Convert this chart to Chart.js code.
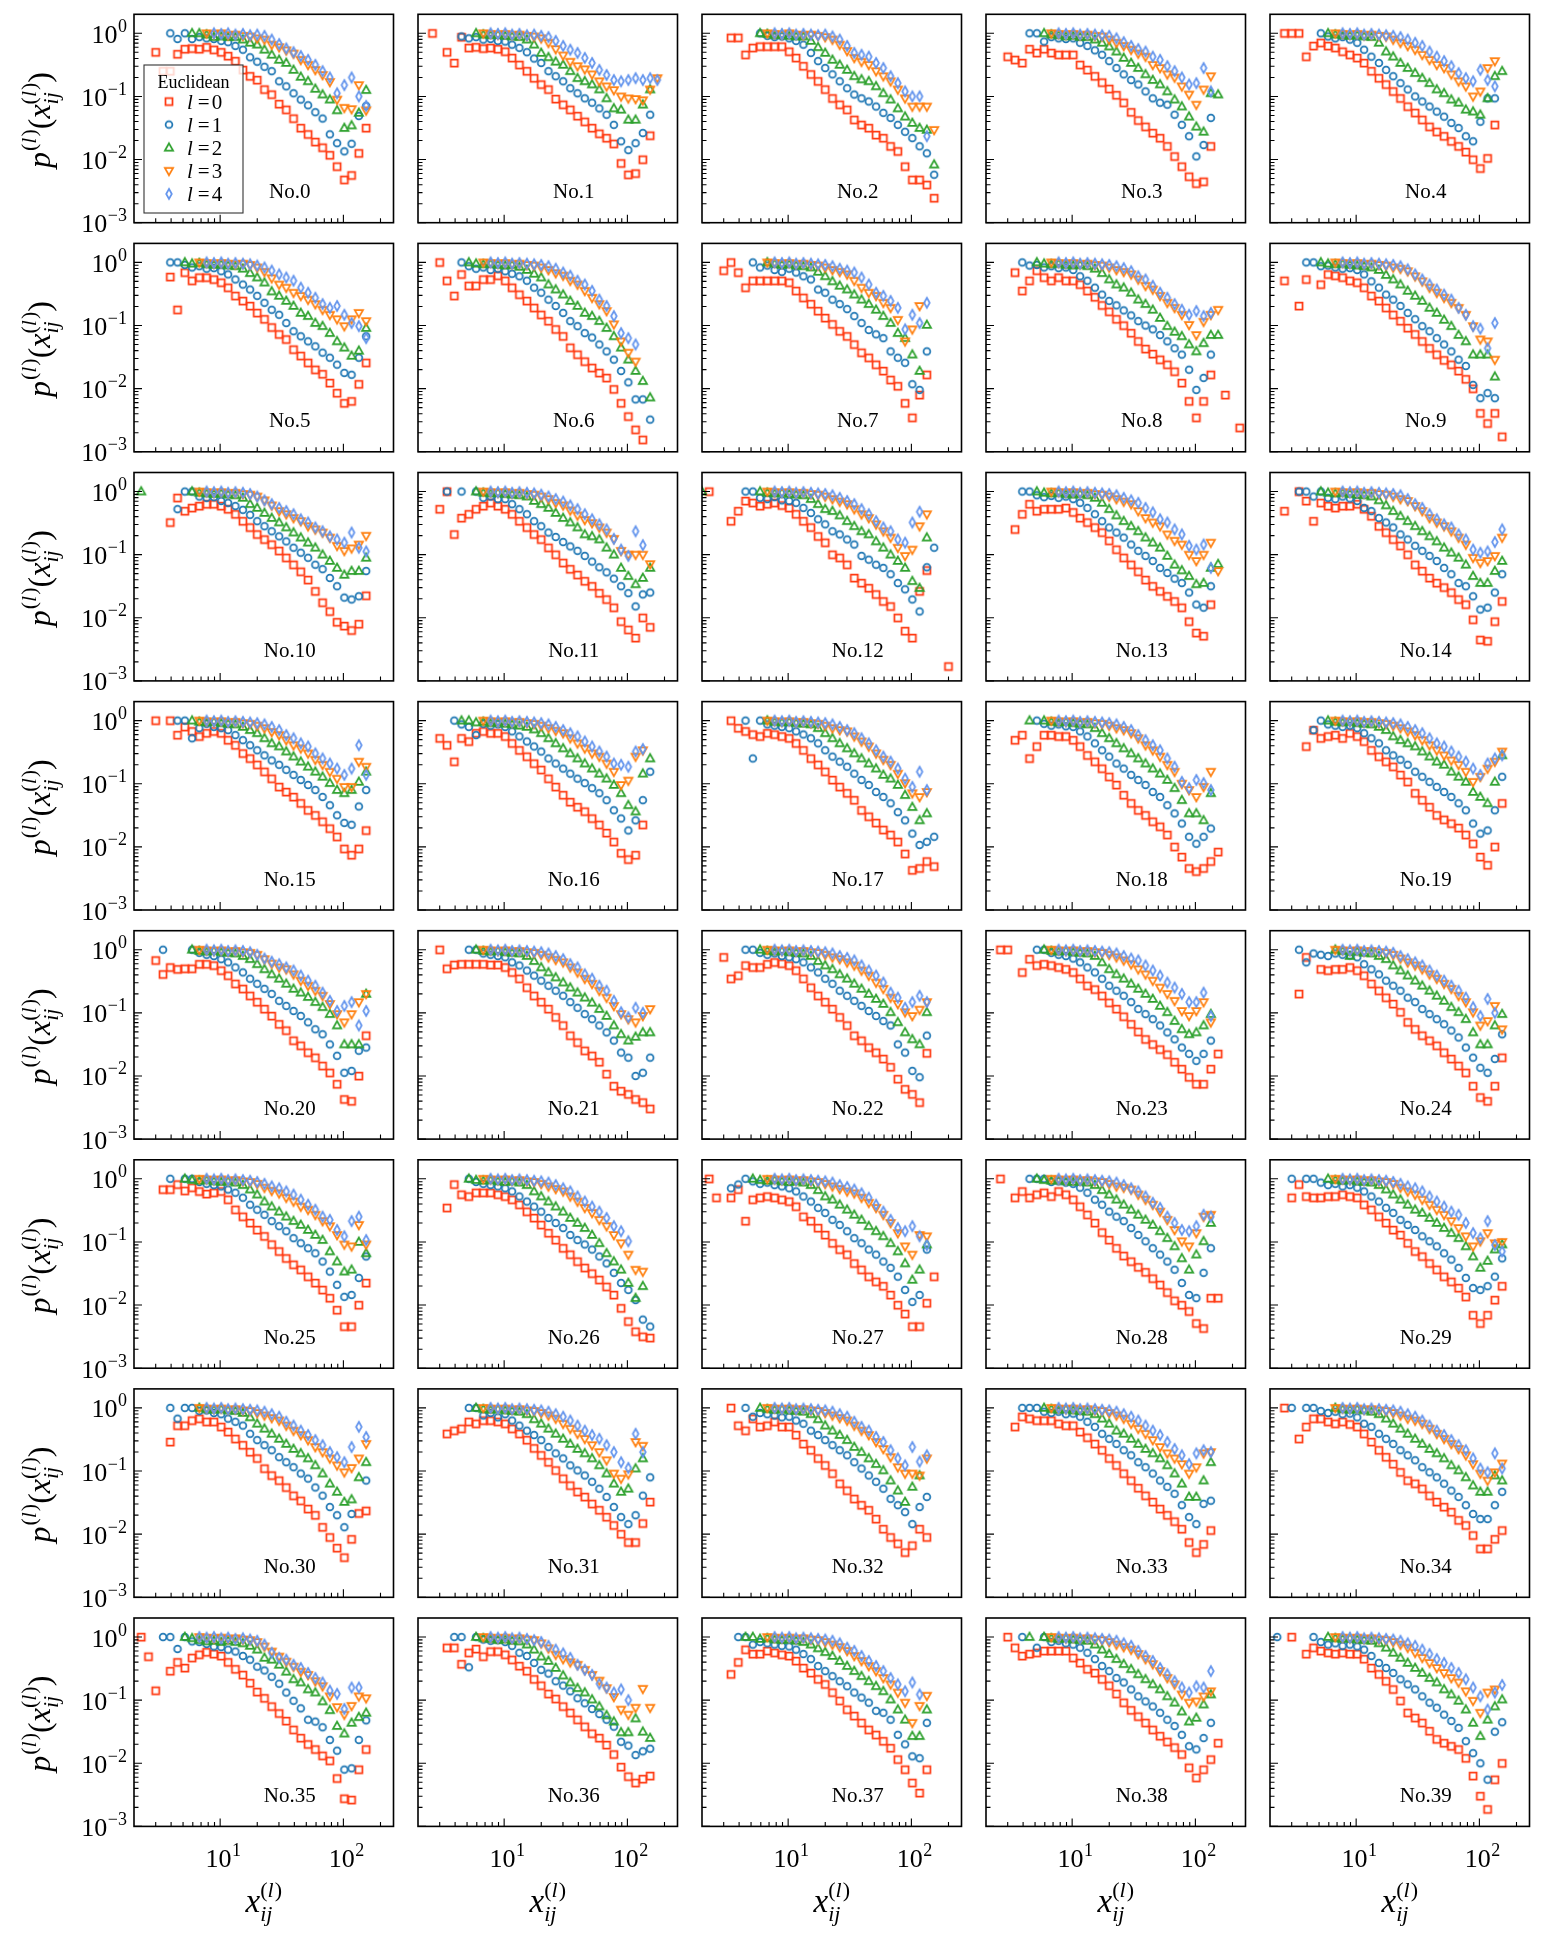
<!DOCTYPE html>
<html>
<head>
<meta charset="utf-8">
<script src="https://cdn.jsdelivr.net/npm/chart.js@4.4.0/dist/chart.umd.min.js"></script>
<style>
html, body { margin: 0; padding: 0; background: #fff; }
#wrap { position: relative; width: 1545px; height: 1946px; overflow: hidden; background: #fff; }
#wrap canvas { position: absolute; }
</style>
</head>
<body>
<div id="wrap"></div>
<script>
const _ = null;

// distance bins (x) shared by all panels
const xBins = [2.0, 2.29, 2.62, 3.0, 3.44, 3.94, 4.51, 5.17, 5.92, 6.78, 7.76, 8.9, 10.2, 11.6, 13.3, 15.3, 17.5, 20.0,
  22.9, 26.2, 30.1, 34.4, 39.4, 45.1, 51.7, 59.2, 67.8, 77.6, 88.9, 101.8, 116.6, 133.5, 153, 175, 200, 229];

// log10 p x 100, one row per panel; first entry of a row = index in xBins of its first point
const logP0 = [
  [3,-30,-60,-60,-33,-25,-24,-25,-22,-26,-30,-36,-44,-58,-68,-74,-89,-97,-112,-121,-135,-150,-160,-172,-181,-193,-211,-232,-225,-190,-150],
  [2,0,_,-30,-47,-6,-23,-22,-24,-23,-25,-29,-39,-50,-60,-71,-81,-89,-104,-113,-121,-131,-140,-150,-159,-166,-175,-206,-224,-222,-200,-162],
  [4,-7,-7,-34,-23,-21,-21,-21,-21,-29,-39,-52,-65,-76,-89,-103,-113,-121,-137,-145,-150,-161,-166,-179,-187,-211,-232,-232,-240,-261],
  [3,-37,-42,-47,-25,-31,-25,-31,-34,-34,-34,-50,-58,-68,-78,-88,-98,-110,-125,-138,-148,-158,-166,-179,-195,-211,-227,-238,-235,-179],
  [2,0,0,0,-37,-20,-15,-20,-23,-29,-34,-39,-47,-60,-71,-81,-92,-103,-116,-126,-137,-148,-156,-163,-171,-179,-188,-200,-214,-198,-145],
  [5,-23,-75,-16,-29,-24,-24,-27,-32,-40,-53,-61,-69,-80,-90,-103,-114,-122,-138,-148,-159,-170,-177,-191,-207,-223,-220,-193,-159],
  [3,0,-29,-53,-19,-37,-37,-27,-27,-21,-29,-40,-51,-61,-72,-83,-93,-106,-117,-135,-146,-157,-167,-175,-183,-201,-223,-244,-265,-281],
  [3,-13,0,-16,-40,-29,-29,-29,-29,-29,-32,-45,-56,-66,-77,-88,-98,-109,-117,-130,-143,-151,-162,-172,-186,-196,-223,-246,-210,-178],
  [4,-16,-45,-29,-13,-24,-29,-24,-29,-29,-35,-45,-55,-68,-78,-90,-100,-112,-125,-137,-145,-154,-162,-173,-191,-220,-246,-220,-178,_,-210,_,-262],
  [2,-29,_,-69,-27,_,-35,-19,-21,-24,-29,-32,-40,-53,-61,-72,-83,-93,-104,-114,-125,-136,-146,-155,-162,-172,-185,-200,-239,-255,-239,-276],
  [5,-49,-10,-31,-26,-23,-20,-20,-23,-28,-36,-47,-57,-68,-76,-84,-94,-105,-116,-127,-140,-158,-176,-190,-207,-213,-220,-210,-165],
  [3,-28,0,-68,-42,-36,-28,-23,-18,-23,-28,-36,-47,-57,-68,-76,-89,-100,-113,-123,-132,-142,-150,-161,-171,-184,-206,-219,-232,-200,-215],
  [1,0,_,_,-47,-31,-15,-18,-23,-20,-18,-22,-26,-36,-47,-57,-71,-81,-100,-105,-116,-137,-145,-153,-163,-174,-182,-200,-221,-232,-158,-125,_,_,-277],
  [4,-60,-36,-20,-31,-28,-28,-28,-26,-33,-42,-49,-57,-65,-78,-92,-105,-116,-127,-140,-150,-158,-166,-174,-184,-206,-224,-229,-179],
  [2,-31,_,0,-15,-47,-18,-23,-26,-23,-23,-20,-28,-39,-55,-65,-76,-86,-100,-116,-126,-137,-145,-152,-160,-171,-179,-203,-235,-237,-206,-174],
  [3,0,_,0,-23,-10,-17,-25,-20,-17,-20,-31,-39,-52,-60,-70,-81,-92,-105,-113,-121,-131,-142,-150,-160,-171,-184,-203,-213,-203,-174],
  [3,-28,-39,-65,-28,-33,-20,-17,-20,-20,-25,-36,-47,-57,-68,-78,-92,-105,-118,-129,-137,-144,-155,-165,-178,-192,-210,-220,-213,-165],
  [4,0,-12,-17,-22,-25,-20,-22,-25,-28,-36,-47,-60,-70,-81,-94,-105,-115,-126,-142,-152,-162,-173,-181,-192,-211,-237,-234,-223,-231],
  [4,-31,-23,-60,-41,-23,-23,-25,-25,-31,-41,-55,-65,-76,-89,-102,-118,-131,-142,-150,-160,-168,-181,-200,-216,-234,-239,-234,-223,-208],
  [5,-41,-15,-28,-25,-23,-28,-20,-25,-33,-47,-57,-65,-73,-86,-97,-115,-126,-137,-150,-157,-163,-170,-181,-195,-216,-229,-200,-131],
  [3,-17,-39,-28,-31,-30,-30,-23,-23,-25,-33,-41,-54,-62,-73,-83,-94,-105,-118,-128,-144,-152,-163,-171,-184,-195,-213,-237,-240,-200,-136],
  [3,0,-30,-24,-23,-23,-23,-23,-24,-24,-28,-36,-46,-60,-73,-83,-94,-107,-120,-136,-147,-160,-168,-178,-197,-216,-224,-229,-237,-242,-252],
  [3,-12,-46,-41,-25,-28,-28,-23,-20,-22,-25,-33,-46,-60,-73,-83,-94,-107,-120,-136,-144,-155,-163,-173,-186,-205,-221,-229,-242,-164],
  [2,0,0,_,-36,-15,-25,-23,-25,-28,-31,-36,-46,-57,-63,-73,-84,-94,-106,-118,-130,-142,-150,-158,-166,-178,-189,-202,-213,-213,-189,-165],
  [4,-70,-12,_,-31,-33,-31,-31,-28,-33,-41,-54,-65,-76,-86,-99,-115,-126,-136,-144,-152,-163,-173,-184,-195,-216,-234,-240,-216,-171],
  [4,-17,-17,-9,-19,-14,-20,-24,-22,-20,-33,-49,-60,-70,-81,-91,-104,-115,-126,-136,-144,-155,-165,-176,-189,-208,-234,-234,-200,-165],
  [4,-46,-9,-25,-28,-22,-22,-22,-25,-28,-33,-41,-52,-62,-73,-86,-97,-110,-120,-131,-141,-150,-160,-171,-184,-205,-226,-242,-250,-252],
  [1,0,-30,_,-30,-17,-67,-33,-30,-28,-30,-33,-36,-44,-60,-67,-78,-89,-102,-112,-120,-134,-144,-155,-163,-170,-184,-200,-214,-234,-234,-197,-155],
  [2,0,_,-30,-20,-30,-25,-22,-28,-20,-25,-33,-44,-57,-70,-85,-97,-110,-122,-131,-140,-148,-158,-168,-180,-193,-200,-210,-229,-237,-189,-189],
  [3,-30,-9,-28,-30,-30,-28,-28,-25,-28,-30,-41,-49,-60,-70,-81,-89,-102,-115,-123,-134,-144,-155,-163,-173,-187,-216,-229,-216,-192,-170],
  [5,-54,-28,-28,-20,-17,-22,-22,-30,-38,-49,-59,-70,-80,-96,-107,-115,-126,-139,-147,-160,-170,-189,-205,-222,-237,-208,-167,-163],
  [4,-41,-36,-33,-22,-25,-20,-20,-22,-25,-33,-41,-51,-64,-75,-86,-99,-112,-123,-133,-141,-152,-162,-173,-186,-200,-213,-213,-183,-149],
  [4,0,-28,-36,-17,-30,-28,-22,-30,-30,-43,-57,-67,-80,-91,-104,-120,-131,-144,-154,-162,-176,-192,-205,-215,-229,-218,-192,-205],
  [4,-30,-14,-17,-20,-20,-20,-25,-28,-28,-38,-47,-57,-67,-80,-91,-104,-115,-127,-139,-149,-160,-170,-180,-192,-213,-229,-216,-194],
  [2,0,_,-49,-30,-17,-17,-22,-25,-22,-26,-30,-41,-54,-67,-78,-89,-102,-115,-120,-128,-139,-149,-157,-165,-178,-186,-202,-223,-223,-208,-194],
  [1,0,-31,-85,_,-54,-40,-49,-33,-28,-24,-27,-30,-40,-51,-60,-73,-87,-97,-110,-121,-133,-147,-160,-170,-178,-188,-196,-224,-256,-258,-210,-178],
  [4,-17,-17,-43,-25,-19,-31,-23,-23,-28,-36,-46,-54,-67,-77,-90,-98,-110,-120,-131,-142,-153,-160,-171,-186,-206,-221,-231,-225,-220],
  [4,-59,-40,-20,-27,-27,-22,-25,-28,-30,-38,-49,-57,-67,-75,-88,-101,-115,-125,-136,-147,-155,-165,-176,-194,-210,-231,-247,-210],
  [3,0,-17,-30,-27,-25,-22,-22,-22,-22,-33,-41,-51,-57,-67,-77,-90,-104,-116,-126,-136,-147,-157,-166,-175,-186,-207,-223,-210,-194,-168],
  [3,0,_,-27,-17,-22,-25,-27,-25,-27,-27,-35,-49,-59,-70,-83,-101,-120,-128,-136,-149,-162,-168,-173,-178,-192,-220,-252,-273,-226,-200]
];

const logP1 = [
  [5,0,-9,0,-9,-6,-8,-9,-12,-14,-20,-26,-38,-45,-53,-60,-76,-84,-95,-105,-114,-125,-135,-160,-174,-187,-175,-131,-115],
  [6,-5,-8,-6,-10,-9,-12,-13,-18,-23,-30,-40,-47,-60,-68,-76,-87,-95,-103,-110,-119,-129,-145,-171,-185,-174,-158,-129],
  [8,0,-4,-6,-5,-8,-12,-18,-31,-44,-55,-65,-76,-87,-97,-103,-108,-116,-126,-134,-145,-156,-166,-179,-190,-224],
  [6,0,0,-13,-6,-8,-9,-8,-15,-20,-27,-34,-44,-55,-65,-74,-81,-92,-103,-110,-113,-129,-145,-163,-195,-177,-134],
  [7,0,-5,-8,-6,-10,-15,-26,-37,-47,-58,-68,-79,-89,-100,-108,-116,-124,-132,-142,-150,-163,-171,-140,-103,-103],
  [5,0,0,-4,-8,-6,-10,-9,-14,-19,-27,-35,-43,-53,-64,-75,-83,-96,-109,-117,-125,-133,-143,-151,-162,-175,-178,-151,-117],
  [6,0,-6,-10,-8,-12,-10,-14,-18,-22,-29,-40,-48,-59,-69,-80,-93,-101,-112,-119,-130,-141,-154,-172,-190,-217,-217,-249],
  [7,0,-8,-5,-12,-15,-10,-16,-22,-27,-43,-48,-59,-66,-74,-85,-96,-107,-114,-120,-141,-151,-159,-193,-202,-141],
  [5,0,-5,-4,-8,-6,-9,-8,-12,-22,-29,-40,-51,-61,-68,-76,-84,-93,-100,-106,-115,-125,-136,-146,-170,-202,-183,-146],
  [5,0,0,-6,-5,-8,-10,-9,-12,-19,-30,-40,-51,-59,-69,-80,-90,-101,-109,-120,-130,-141,-154,-164,-194,-215,-207,-215],
  [6,-28,0,0,-8,-10,-9,-15,-18,-23,-29,-37,-47,-55,-63,-71,-79,-89,-97,-105,-116,-123,-137,-150,-168,-171,-166,-126],
  [4,0,_,0,_,0,-10,-8,-12,-12,-20,-28,-36,-47,-55,-65,-72,-80,-87,-94,-102,-111,-120,-128,-138,-150,-161,-182,-163,-160],
  [6,0,0,-10,-12,-9,-14,-15,-18,-26,-34,-44,-52,-63,-68,-76,-84,-102,-108,-116,-121,-131,-145,-155,-171,-190,-120,-89],
  [5,0,0,-6,-9,-7,-10,-8,-12,-18,-26,-36,-47,-57,-65,-73,-84,-94,-102,-110,-121,-129,-138,-145,-160,-179,-184,-150],
  [4,0,0,-8,0,-10,-12,-8,-11,-15,-26,-31,-42,-49,-57,-68,-76,-86,-94,-102,-110,-121,-131,-145,-150,-166,-187,-184,-160,-131],
  [6,0,0,-28,-12,-5,-10,-12,-15,-23,-31,-39,-47,-55,-63,-70,-78,-86,-94,-102,-110,-121,-134,-150,-162,-165,-136,-110],
  [5,0,-6,-10,-23,-5,-8,-6,-10,-17,-25,-33,-41,-49,-60,-68,-76,-84,-92,-99,-107,-115,-126,-142,-155,-174,-158,-126,-81],
  [6,0,-60,0,-6,-8,-10,-12,-17,-22,-28,-36,-47,-57,-65,-73,-84,-94,-102,-113,-121,-131,-145,-158,-179,-197,-192,-184],
  [7,0,-5,-8,-6,-9,-10,-17,-25,-36,-47,-57,-68,-76,-86,-94,-102,-113,-121,-134,-147,-163,-184,-195,-184,-171],
  [6,-15,0,-6,-8,-10,-8,-12,-20,-28,-36,-47,-55,-62,-70,-81,-89,-97,-105,-113,-121,-131,-142,-163,-179,-174,-142,-89],
  [4,0,_,_,_,0,-5,-8,-10,-15,-20,-28,-36,-46,-54,-62,-70,-81,-89,-97,-105,-115,-126,-134,-150,-168,-195,-192,-160,-155],
  [7,0,0,-6,-8,-10,-12,-20,-25,-33,-41,-49,-57,-65,-73,-83,-92,-102,-110,-120,-131,-144,-163,-171,-200,-195,-171],
  [6,0,0,-5,-8,-6,-10,-12,-15,-20,-28,-36,-46,-54,-65,-73,-81,-89,-97,-105,-113,-120,-150,-163,-192,-202,-136],
  [7,0,0,-5,-8,-10,-14,-20,-28,-36,-46,-57,-65,-73,-83,-94,-102,-110,-120,-131,-142,-155,-165,-176,-165,-144],
  [4,0,-20,-6,-8,-10,-6,-8,-9,-12,-23,-31,-39,-49,-57,-65,-76,-83,-94,-102,-110,-118,-128,-139,-155,-171,-187,-195,-173,-134],
  [5,0,_,0,0,-5,-8,-10,-12,-17,-22,-30,-41,-49,-57,-67,-75,-83,-94,-102,-110,-118,-131,-147,-168,-187,-184,-157,-123],
  [7,0,-5,-8,-10,-12,-15,-20,-28,-36,-44,-52,-62,-70,-78,-89,-97,-104,-112,-123,-134,-149,-165,-176,-192,-223,-234],
  [4,-15,-9,0,-4,-8,-6,-10,-12,-15,-20,-28,-36,-46,-54,-65,-73,-83,-94,-102,-112,-120,-131,-141,-155,-176,-195,-184,-112],
  [6,0,0,0,-5,-4,-6,-8,-14,-22,-33,-41,-52,-60,-67,-78,-89,-99,-110,-120,-131,-144,-165,-184,-189,-149,-110],
  [3,0,_,0,0,-6,-10,-8,-12,-10,-14,-20,-28,-36,-46,-54,-65,-73,-81,-91,-99,-107,-118,-128,-141,-157,-173,-176,-170,-155,-126],
  [5,0,-17,0,0,-5,-4,-8,-10,-17,-22,-28,-41,-51,-59,-67,-78,-86,-94,-104,-112,-126,-139,-157,-170,-189,-168,_,-115],
  [7,0,0,-12,-8,-15,-10,-20,-28,-36,-43,-51,-62,-72,-80,-91,-99,-107,-117,-128,-141,-157,-173,-184,-170,-139,-110],
  [6,0,-14,-8,-10,-12,-15,-14,-20,-25,-36,-43,-51,-59,-67,-75,-86,-96,-107,-117,-128,-144,-154,-165,-184,-157,-141],
  [5,0,0,0,-6,-8,-6,-10,-9,-14,-22,-30,-41,-49,-57,-67,-75,-86,-94,-104,-115,-125,-136,-154,-173,-184,-152,-147],
  [3,0,_,0,0,-5,-8,-6,-10,-9,-15,-25,-30,-41,-49,-57,-67,-75,-83,-94,-102,-110,-120,-131,-141,-154,-168,-176,-176,-154,-133],
  [4,0,0,-19,0,-7,-8,-11,-15,-16,-20,-23,-30,-36,-47,-53,-63,-74,-88,-101,-113,-131,-134,-143,-163,-180,-210,-208,-163,-132],
  [5,0,0,-48,0,-4,-6,-5,-8,-14,-25,-30,-41,-52,-58,-70,-77,-86,-97,-105,-114,-122,-131,-142,-166,-172,-187,-181,-177],
  [5,0,0,-12,-8,-10,-12,-14,-15,-20,-27,-35,-46,-54,-62,-70,-78,-88,-96,-104,-117,-120,-131,-155,-170,-189,-192,-136],
  [5,0,_,-17,0,-8,-6,-10,-12,-17,-25,-35,-46,-54,-65,-72,-83,-94,-102,-110,-120,-131,-141,-155,-173,-178,-160,-136],
  [1,0,_,_,_,_,0,-8,-12,-10,-14,-12,-15,-20,-30,-41,-49,-57,-67,-75,-83,-94,-104,-112,-123,-133,-144,-165,-184,-200,-226,-150,-135]
];

const logP2 = [
  [8,0,0,-2,-6,-5,-6,-6,-10,-15,-18,-26,-34,-42,-47,-58,-69,-76,-88,-97,-105,-122,-150,-146,-126,-90],
  [8,0,-2,-3,-2,-4,-5,-6,-10,-18,-31,-38,-45,-50,-60,-71,-76,-81,-89,-103,-119,-121,-137,-137,-113,-89],
  [8,0,-1,-3,-2,-4,-5,-5,-12,-22,-31,-42,-50,-58,-68,-73,-76,-84,-95,-105,-119,-132,-142,-150,-153,-208],
  [8,0,-2,-3,-5,-4,-6,-6,-10,-15,-21,-29,-39,-47,-55,-65,-74,-81,-92,-105,-116,-132,-148,-156,-95,-97],
  [8,0,-2,-3,-4,-3,-5,-6,-15,-29,-37,-47,-55,-63,-71,-79,-89,-95,-105,-110,-121,-124,-129,-103,-68,-60],
  [7,0,-2,-1,-3,-4,-3,-5,-6,-10,-17,-24,-32,-46,-53,-61,-69,-80,-85,-96,-101,-112,-125,-135,-148,-140,-104],
  [7,0,-2,-3,-2,-4,-5,-4,-7,-12,-18,-24,-35,-43,-51,-61,-69,-80,-85,-93,-104,-117,-135,-154,-172,-188,-214],
  [9,0,-2,-4,-3,-5,-6,-8,-15,-22,-30,-37,-43,-51,-59,-66,-75,-85,-96,-112,-120,-146,-172,-99],
  [7,0,-2,-3,-2,-4,-5,-4,-6,-10,-17,-27,-35,-40,-48,-59,-66,-75,-88,-101,-110,-117,-130,-141,-128,-115,-115],
  [7,0,-2,-3,-2,-4,-5,-6,-8,-12,-20,-27,-35,-45,-53,-61,-72,-80,-91,-101,-115,-125,-146,-146,-146,-181],
  [1,0,_,_,_,_,_,_,0,-2,-3,-4,-3,-5,-6,-10,-20,-26,-34,-42,-49,-57,-65,-73,-81,-89,-100,-110,-121,-132,-126,-126,-105],
  [8,0,-2,-3,-2,-4,-5,-6,-8,-15,-20,-26,-34,-42,-49,-57,-68,-71,-76,-89,-100,-121,-134,-147,-137,-121],
  [0,0,_,_,_,_,_,_,_,0,-2,-3,-2,-4,-5,-6,-12,-20,-28,-31,-38,-47,-55,-63,-68,-79,-89,-100,-110,-121,-142,-153,-73],
  [7,0,-2,-3,-2,-4,-5,-4,-6,-10,-18,-28,-38,-47,-55,-63,-73,-81,-89,-102,-116,-125,-134,-147,-145,-121,-115],
  [7,0,-2,-3,-2,-4,-5,-6,-8,-14,-22,-31,-39,-47,-55,-63,-71,-79,-89,-97,-105,-116,-134,-145,-145,-126,-110],
  [8,0,-2,-3,-2,-4,-5,-6,-10,-15,-20,-28,-36,-41,-49,-57,-65,-73,-81,-89,-99,-110,-115,-110,-97,-81],
  [6,0,0,-3,-2,-4,-3,-5,-6,-8,-10,-14,-20,-28,-36,-44,-52,-60,-68,-76,-84,-92,-102,-115,-134,-144,-84,-60],
  [9,0,-2,-3,-2,-4,-5,-6,-12,-20,-28,-36,-44,-52,-60,-68,-76,-86,-92,-102,-118,-137,-158,-147],
  [6,0,_,0,-2,-3,-2,-4,-5,-6,-12,-20,-28,-36,-44,-52,-60,-68,-76,-84,-94,-107,-126,-147,-147,-158,-115],
  [8,0,-2,-3,-2,-4,-5,-6,-10,-15,-25,-31,-36,-41,-49,-57,-65,-70,-81,-89,-97,-113,-121,-131,-97,-55],
  [8,0,-2,-3,-2,-4,-5,-6,-10,-15,-23,-31,-39,-46,-54,-62,-68,-75,-83,-91,-102,-120,-150,-150,-150,-70],
  [8,0,-2,-3,-2,-4,-5,-6,-10,-18,-28,-36,-44,-52,-60,-68,-76,-84,-94,-105,-120,-134,-144,-138,-131,-131],
  [8,0,-2,-3,-2,-4,-5,-6,-10,-18,-25,-31,-39,-46,-54,-62,-70,-78,-86,-99,-115,-131,-142,-150,-99],
  [8,0,-2,-3,-2,-4,-5,-6,-10,-20,-31,-39,-46,-54,-62,-70,-78,-89,-99,-113,-126,-134,-131,-120,-102],
  [9,0,-2,-10,-3,-5,-6,-10,-15,-25,-33,-41,-49,-57,-65,-73,-81,-91,-99,-110,-131,-150,-150,-120,-102],
  [7,0,-2,-3,-2,-4,-5,-4,-6,-10,-17,-25,-36,-44,-52,-60,-67,-73,-81,-89,-97,-115,-131,-147,-144,-100,-118],
  [7,0,-2,-3,-2,-4,-5,-4,-6,-10,-20,-28,-36,-44,-52,-62,-70,-78,-89,-102,-118,-131,-144,-165,-189,-170],
  [7,0,-2,-3,-2,-4,-5,-4,-6,-10,-18,-28,-33,-41,-49,-57,-65,-75,-83,-91,-102,-115,-134,-160,-144,-104],
  [7,0,-2,-3,-2,-4,-5,-4,-6,-10,-18,-25,-33,-41,-49,-57,-65,-73,-83,-94,-107,-126,-144,-120,-99,-70],
  [8,0,-2,-3,-2,-4,-5,-6,-10,-17,-25,-33,-41,-49,-54,-62,-70,-78,-86,-94,-107,-123,-141,-130,-112,-104],
  [9,0,-2,-3,-2,-4,-5,-8,-15,-25,-33,-41,-49,-57,-65,-72,-80,-91,-104,-120,-133,-149,-145,-110,-86],
  [8,0,-2,-3,-2,-4,-5,-6,-10,-18,-25,-33,-41,-49,-57,-65,-72,-80,-91,-104,-120,-133,-128,-96,-80],
  [8,0,-2,-3,-2,-4,-5,-6,-10,-18,-28,-36,-43,-51,-62,-70,-80,-89,-99,-115,-131,-149,-125,-107],
  [8,0,-2,-3,-2,-4,-5,-6,-10,-17,-25,-36,-41,-49,-57,-65,-72,-80,-91,-104,-120,-141,-141,-115,-86],
  [9,0,-2,-3,-2,-4,-6,-10,-17,-25,-33,-41,-49,-57,-65,-72,-80,-91,-99,-110,-123,-133,-133,-107,-115],
  [7,0,-2,-5,-7,-6,-8,-6,-8,-10,-14,-20,-33,-36,-44,-55,-67,-72,-83,-88,-102,-116,-141,-153,-136,-127,-120],
  [8,0,-2,-3,-5,-4,-6,-7,-12,-20,-31,-38,-49,-61,-72,-81,-88,-99,-110,-124,-134,-151,-151,-129,-150,-160],
  [6,0,0,-3,-2,-4,-5,-4,-6,-8,-12,-18,-24,-30,-38,-46,-54,-62,-70,-78,-86,-99,-115,-131,-157,-157,-115],
  [6,0,_,0,-2,-3,-2,-4,-5,-6,-12,-20,-27,-35,-43,-51,-59,-67,-75,-83,-94,-104,-118,-134,-128,-107,-91],
  [8,0,-2,-3,-2,-4,-5,-6,-10,-17,-25,-33,-41,-49,-57,-65,-72,-83,-91,-101,-115,-136,-157,-131,-110,-99]
];

const logP3 = [
  [10,0,-1,0,-3,-2,-4,-5,-8,-10,-18,-22,-27,-32,-42,-50,-58,-66,-77,-105,-118,-120,-82,-122],
  [9,0,-1,-2,-1,-3,-2,-4,-5,-8,-15,-25,-35,-45,-52,-57,-65,-76,-84,-90,-100,-103,-104,-106,-89,-71],
  [9,0,-1,-2,0,-2,-3,-2,-4,-6,-10,-18,-28,-39,-45,-50,-60,-68,-76,-89,-103,-116,-116,-116,-153],
  [9,0,-1,-2,-1,-3,-2,-4,-5,-10,-15,-20,-26,-32,-37,-50,-55,-65,-70,-84,-97,-113,-89,-68],
  [9,0,-1,-2,-1,-3,-2,-4,-5,-10,-15,-20,-26,-34,-42,-50,-55,-65,-76,-84,-100,-92,-55,-44],
  [9,0,-1,-2,-1,-2,-3,-2,-4,-8,-15,-25,-35,-40,-48,-53,-59,-66,-75,-83,-90,-101,-90,-80,-93],
  [9,0,-1,-2,-1,-3,-2,-4,-5,-8,-12,-17,-21,-29,-35,-45,-56,-66,-77,-98,-125,-143,-157],
  [9,0,-1,-2,-1,-3,-2,-4,-5,-8,-12,-15,-19,-29,-40,-48,-53,-64,-72,-91,-125,-106,-69],
  [9,0,-1,-2,-1,-3,-2,-4,-5,-8,-12,-15,-19,-27,-37,-43,-53,-64,-72,-83,-99,-115,-94,-83,-75],
  [9,0,-1,-2,-1,-3,-2,-4,-5,-8,-10,-14,-22,-30,-40,-48,-56,-64,-72,-83,-101,-122,-125,-154],
  [9,0,-1,-2,-1,-3,-2,-4,-5,-8,-14,-22,-31,-36,-42,-47,-55,-60,-65,-73,-86,-94,-90,-84,-70],
  [9,0,-1,-2,-1,-3,-2,-4,-5,-8,-12,-18,-22,-30,-38,-45,-50,-57,-65,-75,-94,-100,-100,-100,-115],
  [9,0,-1,-2,-1,-3,-2,-4,-5,-8,-12,-16,-20,-28,-36,-42,-52,-63,-73,-89,-102,-92,-55,-36],
  [9,0,-1,-2,-1,-3,-2,-4,-5,-8,-12,-16,-20,-31,-42,-49,-55,-68,-78,-84,-100,-110,-100,-81,-126],
  [9,0,-1,-2,-1,-3,-2,-4,-5,-8,-12,-15,-23,-31,-42,-49,-55,-63,-73,-84,-105,-113,-110,-102,-73],
  [9,0,-1,-2,-1,-3,-2,-4,-5,-8,-12,-18,-23,-31,-39,-44,-52,-62,-70,-81,-92,-105,-105,-65,-73],
  [9,0,-1,-2,-1,-3,-2,-4,-5,-8,-12,-16,-20,-28,-36,-44,-52,-57,-68,-81,-102,-95,-57,-47],
  [9,0,-1,-2,-1,-3,-2,-4,-5,-8,-12,-15,-17,-25,-33,-41,-52,-62,-70,-84,-99,-115,-121,-113],
  [9,0,-1,-2,-1,-3,-2,-4,-5,-8,-12,-15,-20,-28,-39,-47,-57,-70,-81,-100,-110,-121,-105,-81],
  [9,0,-1,-2,-1,-3,-2,-4,-5,-8,-12,-17,-23,-31,-39,-47,-55,-63,-70,-81,-97,-89,-76,-65,-49],
  [9,0,-1,-2,-1,-3,-2,-4,-5,-8,-15,-22,-28,-31,-39,-49,-57,-65,-73,-86,-102,-115,-102,-83,-70],
  [9,0,-1,-2,-1,-3,-2,-4,-5,-8,-12,-16,-20,-28,-36,-46,-54,-65,-76,-89,-102,-110,-115,-105,-94],
  [9,0,-1,-2,-1,-3,-2,-4,-5,-8,-12,-15,-20,-25,-33,-41,-52,-62,-76,-86,-99,-105,-95,-83],
  [9,0,-1,-2,-1,-3,-2,-4,-5,-8,-12,-17,-23,-31,-39,-49,-60,-70,-81,-97,-105,-97,-83,-115],
  [9,0,-1,-2,-1,-3,-2,-4,-5,-8,-14,-20,-25,-31,-39,-46,-54,-62,-73,-83,-99,-120,-113,-89,-126],
  [9,0,-1,-2,-1,-3,-2,-4,-5,-8,-14,-19,-23,-30,-36,-44,-49,-57,-67,-75,-89,-104,-107,-73,-104],
  [9,0,-1,-2,-1,-3,-2,-4,-5,-8,-12,-16,-20,-28,-36,-46,-54,-65,-75,-89,-102,-120,-144,-147],
  [9,0,-1,-2,-1,-3,-2,-4,-5,-8,-12,-16,-20,-23,-30,-38,-46,-57,-70,-86,-107,-120,-89,-91],
  [9,0,-1,-2,-1,-3,-2,-4,-5,-8,-12,-14,-17,-25,-33,-41,-52,-65,-81,-99,-107,-86,-60,-57],
  [9,0,-1,-2,-1,-3,-2,-4,-5,-8,-14,-20,-25,-33,-41,-49,-57,-67,-78,-91,-107,-99,-86,-102,-100],
  [9,0,-1,-2,-1,-3,-2,-4,-5,-8,-12,-16,-20,-28,-36,-43,-51,-62,-70,-80,-91,-102,-95,-80,-57],
  [9,0,-1,-2,-1,-3,-2,-4,-5,-8,-12,-17,-25,-33,-41,-49,-59,-70,-83,-104,-112,-105,-54,-60],
  [9,0,-1,-2,-1,-3,-2,-4,-5,-8,-12,-16,-20,-28,-36,-43,-54,-65,-78,-94,-104,-104,-107,-80],
  [9,0,-1,-2,-1,-3,-2,-4,-5,-8,-12,-17,-25,-33,-41,-51,-62,-72,-80,-89,-104,-94,-72,-70],
  [9,0,-1,-2,-1,-3,-2,-4,-5,-8,-12,-17,-20,-25,-33,-41,-49,-57,-65,-75,-89,-104,-115,-102,-88],
  [9,0,-1,-2,-1,-3,-2,-4,-5,-8,-15,-23,-31,-39,-47,-55,-60,-70,-78,-94,-111,-123,-109,-94,-97],
  [9,0,-1,-2,-1,-3,-2,-4,-5,-10,-18,-28,-35,-40,-44,-52,-60,-69,-81,-95,-115,-123,-112,-82,-112],
  [9,0,-1,-2,-1,-3,-2,-4,-5,-8,-12,-16,-22,-30,-38,-46,-54,-65,-75,-88,-104,-136,-109,-93],
  [9,0,-1,-2,-1,-3,-2,-4,-5,-8,-12,-16,-20,-27,-35,-43,-54,-65,-75,-91,-104,-102,-94,-86],
  [9,0,-1,-2,-1,-3,-2,-4,-5,-8,-12,-17,-25,-33,-41,-49,-57,-65,-72,-86,-101,-120,-88,-83]
];

const logP4 = [
  [11,0,-1,0,-2,-1,-3,-2,-4,-10,-17,-24,-30,-36,-42,-50,-60,-70,-95,-82,-70,-100,-115],
  [10,0,-1,0,-2,-1,-3,-2,-4,-6,-12,-20,-26,-31,-39,-47,-58,-66,-74,-76,-74,-71,-74,-71,-74],
  [10,0,-1,0,-2,-1,-2,-3,-2,-5,-10,-20,-31,-34,-37,-47,-55,-68,-79,-92,-100,-100,-163],
  [10,0,-1,0,-2,-1,-2,-3,-4,-8,-14,-20,-25,-29,-37,-42,-52,-60,-70,-81,-79,-55,-92],
  [10,0,-1,0,-2,-1,-2,-3,-4,-6,-10,-15,-20,-29,-37,-44,-52,-63,-71,-76,-58,-74,-84],
  [10,0,-1,0,-2,-1,-2,-3,-5,-8,-13,-19,-24,-29,-40,-48,-56,-66,-72,-69,-83,-96,-101,-120],
  [10,0,-1,0,-2,-1,-2,-3,-4,-6,-10,-16,-21,-29,-35,-45,-59,-69,-85,-112,-120,-130],
  [10,0,-1,0,-2,-1,-2,-3,-4,-6,-10,-13,-16,-24,-35,-48,-53,-61,-72,-106,-83,-96,-64],
  [10,0,-1,0,-2,-1,-2,-3,-4,-6,-9,-14,-22,-27,-37,-48,-56,-66,-75,-83,-77,-85,-80],
  [10,0,-1,0,-2,-1,-2,-3,-4,-6,-11,-19,-27,-35,-43,-51,-59,-72,-83,-101,-105,-136,-96],
  [10,0,-1,0,-2,-1,-2,-4,-8,-14,-20,-26,-31,-36,-44,-49,-57,-63,-71,-76,-81,-65,-89,-95],
  [10,0,-1,0,-2,-1,-2,-3,-5,-8,-12,-16,-22,-28,-36,-44,-52,-60,-75,-92,-102,-63,-85],
  [10,0,-1,0,-2,-1,-2,-3,-4,-6,-10,-15,-20,-28,-36,-47,-57,-63,-76,-81,-49,-32],
  [10,0,-1,0,-2,-1,-2,-3,-4,-6,-10,-14,-18,-26,-33,-44,-49,-60,-68,-86,-92,-84,-121],
  [10,0,-1,0,-2,-1,-2,-3,-4,-6,-12,-20,-26,-36,-44,-52,-57,-68,-76,-92,-97,-95,-80,-60],
  [10,0,-1,0,-2,-1,-2,-3,-4,-6,-10,-15,-23,-28,-36,-41,-52,-60,-68,-76,-86,-76,-39,-86],
  [10,0,-1,0,-2,-1,-2,-3,-4,-6,-10,-15,-20,-25,-33,-41,-49,-57,-68,-70,-73,-49,-45],
  [10,0,-1,0,-2,-1,-2,-3,-4,-6,-10,-15,-20,-28,-36,-47,-57,-65,-76,-92,-105,-81,-110],
  [10,0,-1,0,-2,-1,-2,-3,-4,-6,-10,-15,-23,-31,-39,-47,-60,-73,-97,-107,-94,-99,-110],
  [10,0,-1,0,-2,-1,-2,-3,-4,-6,-10,-15,-20,-28,-36,-41,-49,-57,-65,-76,-86,-68,-60,-55],
  [10,0,-1,0,-2,-1,-2,-4,-8,-14,-19,-23,-28,-33,-41,-49,-57,-68,-81,-97,-89,-83,-120,-97],
  [10,0,-1,0,-2,-1,-2,-3,-4,-6,-10,-15,-23,-28,-39,-46,-57,-65,-81,-99,-107,-92,-100],
  [10,0,-1,0,-2,-1,-2,-3,-4,-6,-10,-13,-17,-25,-33,-41,-52,-68,-76,-92,-83,-73,-83],
  [10,0,-1,0,-2,-1,-2,-3,-4,-6,-10,-14,-17,-25,-33,-41,-52,-60,-70,-83,-83,-68,-105],
  [10,0,-1,0,-2,-1,-2,-3,-5,-10,-15,-20,-25,-33,-41,-49,-57,-65,-76,-91,-105,-78,-100],
  [10,0,-1,0,-2,-1,-2,-3,-5,-8,-12,-15,-20,-25,-33,-41,-49,-60,-65,-81,-91,-67,-60,-97],
  [10,0,-1,0,-2,-1,-2,-3,-4,-6,-10,-15,-20,-28,-36,-44,-52,-62,-75,-83,-99],
  [10,0,-1,0,-2,-1,-2,-3,-4,-6,-10,-13,-17,-23,-30,-41,-52,-65,-78,-83,-75,-91,-105],
  [10,0,-1,0,-2,-1,-2,-3,-4,-6,-10,-15,-20,-28,-38,-46,-60,-70,-81,-83,-75,-57,-60],
  [10,0,-1,0,-2,-1,-2,-3,-5,-8,-12,-15,-20,-28,-36,-44,-52,-57,-70,-86,-94,-67,-105,-115],
  [10,0,-1,0,-2,-1,-2,-3,-4,-6,-10,-14,-22,-28,-36,-43,-51,-59,-70,-78,-86,-62,-30,-46],
  [10,0,-1,0,-2,-1,-2,-3,-4,-6,-10,-14,-20,-28,-36,-43,-49,-59,-70,-86,-95,-41,-70],
  [10,0,-1,0,-2,-1,-2,-3,-4,-6,-10,-14,-22,-30,-36,-46,-54,-67,-80,-91,-62,-85,-75],
  [10,0,-1,0,-2,-1,-2,-3,-4,-6,-10,-14,-20,-28,-36,-43,-54,-65,-75,-89,-72,-67,-70],
  [10,0,-1,0,-2,-1,-2,-3,-4,-6,-10,-14,-20,-28,-36,-43,-51,-59,-67,-80,-96,-102,-72,-96],
  [9,0,-1,0,-2,-1,-3,-2,-4,-6,-12,-25,-33,-36,-44,-49,-57,-65,-72,-85,-90,-114,-80,-80],
  [10,0,-1,0,-2,-1,-3,-5,-8,-14,-20,-26,-33,-44,-52,-60,-74,-80,-88,-83,-100],
  [10,0,-1,0,-2,-1,-2,-3,-4,-6,-10,-17,-22,-30,-38,-46,-54,-65,-75,-86,-72,-91],
  [10,0,-1,0,-2,-1,-2,-3,-4,-6,-10,-14,-22,-30,-38,-49,-59,-70,-80,-88,-78,-80,-54],
  [10,0,-1,0,-2,-1,-2,-3,-4,-6,-10,-14,-20,-27,-35,-41,-49,-57,-67,-80,-94,-115,-88,-76]
];

const levels = ['0', '1', '2', '3', '4'];
const levelColors = ['#ff3a12', '#1f77b4', '#2ca02c', '#ff7f0e', '#6495ed'];
const levelMarkers = ['s', 'o', '^', 'v', 'd'];
const panelLabels = logP0.map((row, i) => 'No.' + i);
const legendTitle = 'Euclidean';
const xTickExps = [1, 2];
const yTickExps = [0, -1, -2, -3];

const allLevels = [logP0, logP1, logP2, logP3, logP4];

const SERIF = "'Liberation Serif', 'Times New Roman', serif";
const colLeft = [134, 418, 702, 986, 1270];
const rowTop0 = 14.3, rowStep = 229.1;
const panelW = 259.5, panelH = 208.4;
const nCols = 5, nRows = 8;

function toPoints(row) {
  const pts = [];
  const start = row[0];
  for (let i = 1; i < row.length; i++) {
    if (row[i] === null) continue;
    pts.push({ x: xBins[start + i - 1], y: Math.pow(10, row[i] / 100) });
  }
  return pts;
}

function makeMarker(shape, color) {
  const c = document.createElement('canvas');
  c.width = 16; c.height = 16;
  const g = c.getContext('2d');
  g.strokeStyle = color;
  g.lineWidth = 1.75;
  g.lineJoin = 'miter';
  g.translate(8, 8);
  g.beginPath();
  if (shape === 's') g.rect(-3.5, -3.5, 7, 7);
  else if (shape === 'o') g.arc(0, 0, 3.4, 0, Math.PI * 2);
  else if (shape === '^') { g.moveTo(0, -4.4); g.lineTo(4.1, 2.8); g.lineTo(-4.1, 2.8); g.closePath(); }
  else if (shape === 'v') { g.moveTo(0, 4.4); g.lineTo(4.1, -2.8); g.lineTo(-4.1, -2.8); g.closePath(); }
  else { g.moveTo(0, -5.0); g.lineTo(2.8, 0); g.lineTo(0, 5.0); g.lineTo(-2.8, 0); g.closePath(); }
  g.stroke();
  return c;
}
const markerImgs = levels.map((l, i) => makeMarker(levelMarkers[i], levelColors[i]));

// small mathtext helpers
function fontOf(p) { return (p.i ? 'italic ' : '') + p.s + 'px ' + SERIF; }
function partsWidth(ctx, parts) {
  let w = 0;
  for (const p of parts) {
    if (p.stack) w += Math.max(...p.stack.map(s => partsWidth(ctx, s)));
    else { ctx.font = fontOf(p); w += ctx.measureText(p.t).width + (p.gap || 0); }
  }
  return w;
}
function drawParts(ctx, parts, x, y) {
  for (const p of parts) {
    if (p.stack) {
      const w = Math.max(...p.stack.map(s => partsWidth(ctx, s)));
      p.stack.forEach(s => drawParts(ctx, s, x, y));
      x += w;
    } else {
      ctx.font = fontOf(p);
      ctx.fillText(p.t, x, y + (p.dy || 0));
      x += ctx.measureText(p.t).width + (p.gap || 0);
    }
  }
  return x;
}
function supL(size, dy) {
  return [{ t: '(', s: size, dy: dy }, { t: 'l', s: size, i: 1, dy: dy, gap: 1 }, { t: ')', s: size, dy: dy }];
}
const yLabelParts = [
  { t: 'p', s: 32, i: 1, gap: 1 }, ...supL(22, -14),
  { t: '(', s: 32 }, { t: 'x', s: 32, i: 1 },
  { stack: [supL(22, -14), [{ t: 'ij', s: 22, i: 1, dy: 8 }]] },
  { t: ')', s: 32 }
];
const xLabelParts = [
  { t: 'x', s: 33, i: 1 },
  { stack: [supL(22, -15), [{ t: 'ij', s: 22, i: 1, dy: 9 }]] }
];
function powParts(e, size) {
  const sup = e < 0 ? '\u2212' + (-e) : String(e);
  return [{ t: '10', s: size, gap: 0.5 }, { t: sup, s: Math.round(size * 0.7), dy: -11 }];
}

const xMajor = [10, 100];
const xMinor = [];
[1, 10, 100].forEach(d => { for (let m = 2; m <= 9; m++) { const v = m * d; if (v > 2 && v < 255) xMinor.push(v); } });
const yMajor = [1e-3, 1e-2, 1e-1, 1];
const yMinor = [];
[1e-3, 1e-2, 1e-1].forEach(d => { for (let m = 2; m <= 9; m++) yMinor.push(m * d); });

function drawLegend(ctx, a) {
  const bx = a.left + 10, by = a.top + 50.7, bw = 99, bh = 148;
  ctx.fillStyle = 'rgba(255,255,255,0.8)';
  ctx.fillRect(bx, by, bw, bh);
  ctx.strokeStyle = '#333';
  ctx.lineWidth = 1.1;
  ctx.strokeRect(bx, by, bw, bh);
  ctx.fillStyle = '#000';
  ctx.font = '18px ' + SERIF;
  ctx.textAlign = 'center';
  ctx.fillText(legendTitle, bx + bw / 2, by + 22.5);
  ctx.textAlign = 'left';
  levels.forEach((l, i) => {
    const cy = by + 36.5 + 23.1 * i;
    const img = markerImgs[i];
    ctx.drawImage(img, bx + 25 - 8, cy - 8);
    ctx.fillStyle = '#000';
    drawParts(ctx, [{ t: 'l', s: 21, i: 1, gap: 5 }, { t: '=', s: 21, gap: 2 }, { t: l, s: 21 }], bx + 43, cy + 7);
  });
}

const panelPlugin = {
  id: 'panel',
  afterDatasetsDraw(chart, args, opts) {
    const ctx = chart.ctx, a = chart.chartArea;
    const xs = chart.scales.x, ys = chart.scales.y;
    ctx.save();
    if (opts.legend) drawLegend(ctx, a);

    ctx.strokeStyle = '#000';
    ctx.lineWidth = 1.1;
    ctx.beginPath();
    xMajor.forEach(v => { const px = xs.getPixelForValue(v); ctx.moveTo(px, a.bottom); ctx.lineTo(px, a.bottom - 8); });
    xMinor.forEach(v => { const px = xs.getPixelForValue(v); ctx.moveTo(px, a.bottom); ctx.lineTo(px, a.bottom - 4.5); });
    yMajor.forEach(v => { const py = ys.getPixelForValue(v); ctx.moveTo(a.left, py); ctx.lineTo(a.left + 8, py); });
    yMinor.forEach(v => { const py = ys.getPixelForValue(v); ctx.moveTo(a.left, py); ctx.lineTo(a.left + 4.5, py); });
    ctx.stroke();
    ctx.lineWidth = 1.6;
    ctx.strokeRect(a.left, a.top, a.right - a.left, a.bottom - a.top);

    ctx.fillStyle = '#000';
    ctx.textAlign = 'left';
    ctx.textBaseline = 'alphabetic';
    // panel name
    ctx.font = '21px ' + SERIF;
    ctx.textAlign = 'center';
    ctx.fillText(opts.name, a.left + 0.6 * (a.right - a.left), a.top + 184);
    ctx.textAlign = 'left';

    if (opts.col === 0) {
      yTickExps.forEach(e => {
        const py = ys.getPixelForValue(Math.pow(10, e));
        const parts = powParts(e, 26);
        const w = partsWidth(ctx, parts);
        drawParts(ctx, parts, a.left - 7 - w, py + 9.5);
      });
      const cy = (a.top + a.bottom) / 2 + 1.5;
      ctx.save();
      ctx.translate(50, cy);
      ctx.rotate(-Math.PI / 2);
      const w = partsWidth(ctx, yLabelParts);
      drawParts(ctx, yLabelParts, -w / 2, 0);
      ctx.restore();
    }
    if (opts.row === nRows - 1) {
      xTickExps.forEach(e => {
        const px = xs.getPixelForValue(Math.pow(10, e));
        const parts = powParts(e, 26);
        const w = partsWidth(ctx, parts);
        drawParts(ctx, parts, px - w / 2 + 3, a.bottom + 41);
      });
      const w = partsWidth(ctx, xLabelParts);
      drawParts(ctx, xLabelParts, (a.left + a.right) / 2 - w / 2, a.bottom + 86);
    }
    ctx.restore();
  }
};

const wrap = document.getElementById('wrap');
for (let idx = 0; idx < nRows * nCols; idx++) {
  const r = Math.floor(idx / nCols), c = idx % nCols;
  const left = colLeft[c], top = rowTop0 + rowStep * r;
  const cvLeft = c === 0 ? 0 : Math.round(left) - 14;
  const cvTop = Math.floor(top) - 12;
  const cvRight = Math.round(left + panelW) + 12;
  const cvBottom = r === nRows - 1 ? 1946 : Math.ceil(top + panelH) + 12;
  const cv = document.createElement('canvas');
  cv.width = cvRight - cvLeft; cv.height = cvBottom - cvTop;
  cv.style.left = cvLeft + 'px'; cv.style.top = cvTop + 'px';
  cv.style.width = cv.width + 'px'; cv.style.height = cv.height + 'px';
  wrap.appendChild(cv);

  const datasets = allLevels.map((series, l) => ({
    label: 'l=' + levels[l],
    data: toPoints(series[idx]),
    pointStyle: markerImgs[l],
    pointRadius: 5,
    pointHoverRadius: 5,
    showLine: false,
    order: 4 - l,
    clip: 0
  }));

  new Chart(cv, {
    type: 'scatter',
    data: { datasets },
    options: {
      responsive: false,
      animation: false,
      devicePixelRatio: 1,
      events: [],
      layout: { padding: { left: left - cvLeft, top: top - cvTop, right: cvRight - (left + panelW), bottom: cvBottom - (top + panelH) } },
      plugins: {
        legend: { display: false },
        tooltip: { enabled: false },
        panel: { name: panelLabels[idx], row: r, col: c, legend: idx === 0 }
      },
      scales: {
        x: { type: 'logarithmic', min: 2, max: 255, ticks: { display: false }, grid: { display: false }, border: { display: false },
             afterFit: s => { s.height = 0; } },
        y: { type: 'logarithmic', min: 1e-3, max: 2, ticks: { display: false }, grid: { display: false }, border: { display: false },
             afterFit: s => { s.width = 0; } }
      }
    },
    plugins: [panelPlugin]
  });
}
</script>
</body>
</html>
